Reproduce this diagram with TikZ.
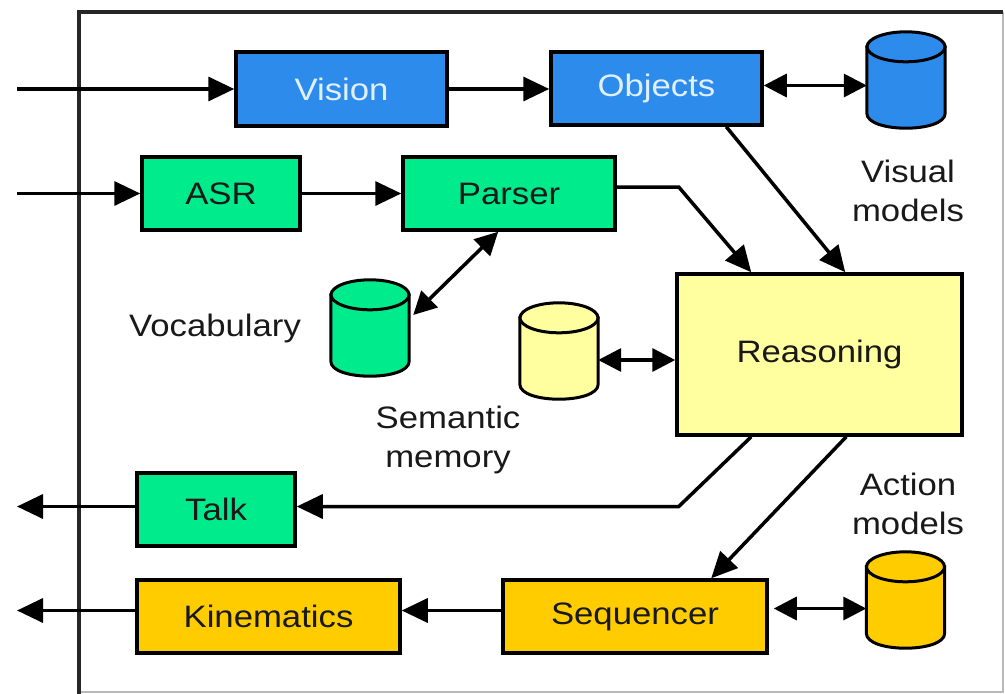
\documentclass[tikz,border=0pt]{standalone}
\usepackage{fontspec}
\setmainfont{Liberation Sans}[FakeStretch=1.12]
\usetikzlibrary{arrows.meta,calc}
\definecolor{cBlue}{RGB}{45,140,235}
\definecolor{cGreen}{RGB}{0,235,140}
\definecolor{cYellow}{RGB}{255,255,160}
\definecolor{cOrange}{RGB}{255,204,0}
\definecolor{cText}{RGB}{25,25,25}
\definecolor{cWhiteText}{RGB}{225,240,255}
\tikzset{
  box/.style={draw=black, line width=3.5pt, inner sep=0pt, text=cText, font=\fontsize{31}{38}\selectfont},
  lbl/.style={inner sep=0pt, align=center, text=cText, font=\fontsize{31}{39}\selectfont},
  cylout/.style={draw=black, line width=3pt},
  arr/.style={line width=3.5pt, -{Triangle[length=26pt,width=24pt]}},
  darr/.style={line width=3.5pt, {Triangle[length=23pt,width=23pt]}-{Triangle[length=23pt,width=23pt]}}
}
\newcommand\dbcyl[4]{%
  \node[inner sep=0pt, minimum width=78pt, minimum height=96pt] (#1) at (#2,#3) {};
  \filldraw[fill=#4, cylout] ($(#1.north west)+(0,15)$) -- ($(#1.south west)+(0,-15)$)
     .. controls +(0,20) and +(0,20) .. ($(#1.south east)+(0,-15)$) -- ($(#1.north east)+(0,15)$) -- cycle;
  \filldraw[fill=#4, cylout] ($(#1.north)+(0,15)$) ellipse [x radius=39pt, y radius=15pt];
}
\begin{document}
\begin{tikzpicture}[x=1pt,y=-1pt]
\useasboundingbox (0,0) rectangle (1005,694);
\fill[white] (0,0) rectangle (1005,694);
% frame
\draw[gray!55, line width=1.5pt] (1003,12) -- (1003,692) -- (79,692);
\draw[black!85, line width=3.5pt] (79,694) -- (79,12) -- (1003,12);

% boxes
\node[box, fill=cBlue, text=cWhiteText, minimum width=211pt, minimum height=74pt] (vision) at (341.5,89) {Vision};
\node[box, fill=cBlue, text=cWhiteText, minimum width=211pt, minimum height=73pt] (objects) at (656.5,88.5) {Objects};
\node[box, fill=cGreen, minimum width=158pt, minimum height=73pt] (asr) at (221,193.5) {ASR};
\node[box, fill=cGreen, minimum width=212pt, minimum height=73pt] (parser) at (509,193.5) {Parser};
\node[box, fill=cYellow, minimum width=285pt, minimum height=161pt] (reason) at (819.5,354.5) {Reasoning};
\node[box, fill=cGreen, minimum width=158pt, minimum height=73pt] (talk) at (216,509.5) {Talk};
\node[box, fill=cOrange, minimum width=263pt, minimum height=73pt] (kin) at (268.5,616.5) {Kinematics};
\node[box, fill=cOrange, minimum width=264pt, minimum height=73pt] (seq) at (635,616.5) {Sequencer};

% cylinders
\dbcyl{vm}{906}{80}{cBlue}
\dbcyl{voc}{370}{328}{cGreen}
\dbcyl{sem}{559}{351}{cYellow}
\dbcyl{act}{905.5}{600}{cOrange}

% labels
\node[lbl] (vmlbl) at (908,191) {Visual\\models};
\node[lbl] (voclbl) at (215,328) {Vocabulary};
\node[lbl] (semlbl) at (448,440) {Semantic\\memory};
\node[lbl] (actlbl) at (908,504) {Action\\models};

% connectors
\coordinate (in1) at (17,89);
\coordinate (in2) at (17,193.5);
\coordinate (out1) at (17,506.5);
\coordinate (out2) at (17,610.5);
\coordinate (oa) at ($(objects.east)+(0,-3)$);
\coordinate (sa) at ($(seq.east)+(5,-8)$);
\coordinate (pa) at ($(parser.east)+(0,-6.5)$);
\coordinate (pb) at ($(parser.east)+(62,-6.5)$);
\coordinate (ta) at ($(talk.east)+(382,-3)$);
\coordinate (tb) at ($(talk.east)+(0,-3)$);

\draw[arr] (in1) -- (vision.west);
\draw[arr] (in2) -- (asr.west);
\draw[arr] (vision.east) -- (vision.east -| objects.west);
\draw[darr] (oa) -- (oa -| vm.west);
\draw[arr] (asr.east) -- (parser.west);
\draw[darr] ($(parser.south west)!0.45!(parser.south east)$) -- ($(voc.east)+(4,-13)$);
\draw[arr] (pa) -- (pb) -- ($(reason.north west)+(76,0)$);
\draw[arr] ($(objects.south west)+(177,0)$) -- ($(reason.north west)+(170,0)$);
\draw[darr] ($(sem.east)+(0,9)$) -- ($(reason.west)+(0,5.5)$);
\draw[arr] ($(reason.south west)+(76,0)$) -- (ta) -- (tb);
\draw[arr] ($(reason.south west)+(171,0)$) -- ($(seq.north west)+(210,0)$);
\draw[darr] (sa) -- (sa -| act.west);
\draw[arr] ($(seq.west)+(0,-6)$) -- ($(kin.east)+(0,-6)$);
\draw[arr] ($(kin.west)+(0,-6)$) -- (out2);
\draw[arr] ($(talk.west)+(0,-3)$) -- (out1);
\end{tikzpicture}
\end{document}
